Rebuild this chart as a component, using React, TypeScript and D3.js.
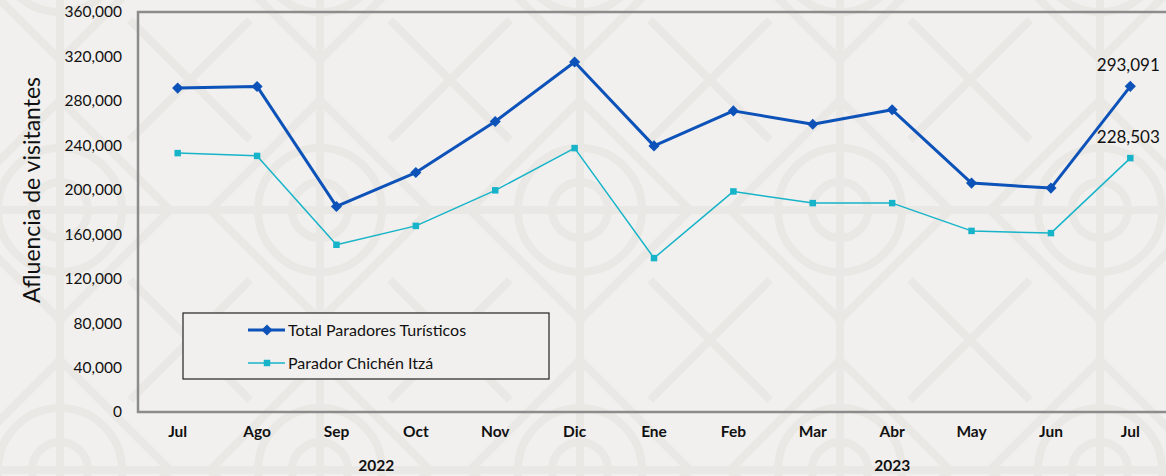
import React, { useEffect, useRef } from 'react';
import { select, scaleLinear, scaleBand, line, axisLeft, axisBottom, format, symbol, symbolSquare } from 'd3';

const months = ['Jul', 'Ago', 'Sep', 'Oct', 'Nov', 'Dic', 'Ene', 'Feb', 'Mar', 'Abr', 'May', 'Jun', 'Jul'];
const monthKeys = months.map((m, i) => `${m}-${i}`);
const years = [
  { label: '2022', from: 0, to: 5 },
  { label: '2023', from: 6, to: 12 },
];
const totalParadores = [291500, 293000, 185000, 215500, 261500, 315000, 239500, 271000, 259000, 272000, 206000, 201500, 293091];
const paradorChichen = [233000, 230500, 150500, 167500, 199500, 237500, 138500, 198500, 188000, 188000, 163000, 161000, 228503];
const yTicks = [0, 40000, 80000, 120000, 160000, 200000, 240000, 280000, 320000, 360000];

const W = 1166;
const H = 476;
const margin = { top: 12, left: 138, bottom: 64, right: -4 };
const FONT = 'Lato, "Noto Sans", sans-serif';

export default function App() {
  const svgRef = useRef<SVGSVGElement>(null);

  useEffect(() => {
    document.body.style.margin = '0';
    const svg = select(svgRef.current);
    svg.selectAll('*').remove();

    // background with faint decorative pattern
    const defs = svg.append('defs');
    const pat = defs.append('pattern')
      .attr('id', 'bgpat')
      .attr('patternUnits', 'userSpaceOnUse')
      .attr('width', 260)
      .attr('height', 260)
      .attr('x', -70)
      .attr('y', 80);
    pat.append('rect').attr('width', 260).attr('height', 260).attr('fill', '#f1f0ee');
    const pg = pat.append('g').attr('fill', 'none').attr('stroke', '#e9e8e4').attr('stroke-width', 8);
    pg.append('circle').attr('cx', 130).attr('cy', 130).attr('r', 62);
    pg.append('circle').attr('cx', 130).attr('cy', 130).attr('r', 28);
    pg.append('path').attr('d', 'M130,0V260M0,130H260');
    pg.append('path').attr('d', 'M130,20L240,130L130,240L20,130Z');
    pg.append('path').attr('d', 'M0,0L60,60M260,0L200,60M0,260L60,200M260,260L200,200');
    svg.append('rect').attr('width', W).attr('height', H).attr('fill', 'url(#bgpat)');

    const innerW = W - margin.left - margin.right;
    const innerH = H - margin.top - margin.bottom;

    const x = scaleBand().domain(monthKeys).range([0, innerW]);
    const y = scaleLinear().domain([0, 360000]).range([innerH, 0]);
    const cx = (i: number) => (x(monthKeys[i]) as number) + x.bandwidth() / 2;

    const g = svg.append('g').attr('transform', `translate(${margin.left},${margin.top})`);

    // plot frame
    g.append('rect')
      .attr('width', innerW)
      .attr('height', innerH)
      .attr('fill', 'none')
      .attr('stroke', '#8c8c8c')
      .attr('stroke-width', 2.5);

    const yAxis = g.append('g').call(axisLeft(y).tickValues(yTicks).tickFormat(format(',')).tickSize(0).tickPadding(16));
    yAxis.select('.domain').remove();
    yAxis.selectAll('text').attr('font-family', FONT).attr('font-size', 15.5).attr('fill', '#111');

    const xAxis = g.append('g')
      .attr('transform', `translate(0,${innerH})`)
      .call(axisBottom(x).tickSize(0).tickPadding(14).tickFormat((d) => String(d).split('-')[0]));
    xAxis.select('.domain').remove();
    xAxis.selectAll('text').attr('font-family', FONT).attr('font-size', 15.5).attr('font-weight', 'bold').attr('fill', '#111');

    g.selectAll('.year')
      .data(years)
      .join('text')
      .attr('x', (d) => (cx(d.from) + cx(d.to)) / 2)
      .attr('y', innerH + 59)
      .attr('text-anchor', 'middle')
      .attr('font-family', FONT)
      .attr('font-size', 15.5)
      .attr('font-weight', 'bold')
      .attr('fill', '#111')
      .text((d) => d.label);

    svg.append('text')
      .attr('transform', `translate(40,190) rotate(-90)`)
      .attr('text-anchor', 'middle')
      .attr('font-family', FONT)
      .attr('font-size', 23)
      .attr('fill', '#111')
      .text('Afluencia de visitantes');

    const mkLine = line<number>().x((_, i) => cx(i)).y((d) => y(d));

    const series = [
      { name: 'Total Paradores Turísticos', values: totalParadores, color: '#0d52b8', width: 3, rot: 45, size: 62 },
      { name: 'Parador Chichén Itzá', values: paradorChichen, color: '#17b4c9', width: 1.5, rot: 0, size: 42 },
    ];

    series.forEach((s) => {
      g.append('path')
        .datum(s.values)
        .attr('fill', 'none')
        .attr('stroke', s.color)
        .attr('stroke-width', s.width)
        .attr('stroke-linejoin', 'round')
        .attr('d', mkLine);
      g.selectAll(null)
        .data(s.values)
        .join('path')
        .attr('transform', (d, i) => `translate(${cx(i)},${y(d)}) rotate(${s.rot})`)
        .attr('d', symbol().type(symbolSquare).size(s.size)())
        .attr('fill', s.color);
      const last = s.values.length - 1;
      g.append('text')
        .attr('x', cx(last) - 2)
        .attr('y', y(s.values[last]) - 15)
        .attr('text-anchor', 'middle')
        .attr('font-family', FONT)
        .attr('font-size', 17)
        .attr('fill', '#111')
        .text(format(',')(s.values[last]));
    });

    // legend
    const leg = svg.append('g').attr('transform', 'translate(183,313)');
    leg.append('rect')
      .attr('width', 366)
      .attr('height', 66)
      .attr('fill', '#f1f0ee')
      .attr('stroke', '#222')
      .attr('stroke-width', 1.2);
    series.forEach((s, i) => {
      const ly = 17 + i * 33;
      leg.append('line')
        .attr('x1', 65).attr('x2', 102)
        .attr('y1', ly).attr('y2', ly)
        .attr('stroke', s.color)
        .attr('stroke-width', s.width);
      leg.append('path')
        .attr('transform', `translate(84,${ly}) rotate(${s.rot})`)
        .attr('d', symbol().type(symbolSquare).size(s.size)())
        .attr('fill', s.color);
      leg.append('text')
        .attr('x', 105)
        .attr('y', ly + 5.5)
        .attr('font-family', FONT)
        .attr('font-size', 16)
        .attr('fill', '#111')
        .text(s.name);
    });
  }, []);

  return <svg ref={svgRef} width={W} height={H} style={{ display: 'block' }} />;
}
